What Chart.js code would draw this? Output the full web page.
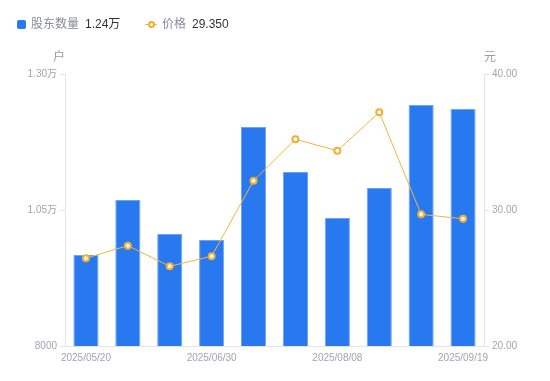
<!DOCTYPE html>
<html>
<head>
<meta charset="utf-8">
<script src="https://cdn.jsdelivr.net/npm/chart.js@4/dist/chart.umd.min.js"></script>
<style>
  html, body { margin: 0; padding: 0; background: #fff; }
  #wrap { position: relative; width: 550px; height: 381px; font-family: "Liberation Sans", "Noto Sans CJK SC", sans-serif; }
  canvas { position: absolute; left: 0; top: 0; }
  .lg { position: absolute; top: 16px; font-size: 12px; line-height: 16px; white-space: nowrap; }
  .lg .name { color: #8a8a99; }
  .lg .val { color: #333; margin-left: 6px; }
  .sq { position: absolute; left: 17px; top: 20px; width: 9px; height: 9px; background: #2878F0; border-radius: 2px; }
  .ln { position: absolute; left: 145px; top: 24px; width: 12px; height: 1px; background: #F5B43C; }
  .dot { position: absolute; left: 148px; top: 21px; width: 3px; height: 3px; border: 2px solid #F5AE2D; border-radius: 50%; background: #fff; }
  .ttl { position: absolute; top: 49px; font-size: 12px; color: #9a9aa8; line-height: 16px; }
</style>
</head>
<body>
<div id="wrap">
  <canvas id="c" width="550" height="381"></canvas>
  <div class="sq"></div>
  <div class="lg" style="left:31px"><span class="name">股东数量</span><span class="val" id="v1"></span></div>
  <div class="ln"></div><div class="dot"></div>
  <div class="lg" style="left:162px"><span class="name">价格</span><span class="val" id="v2"></span></div>
  <div class="ttl" style="left:53px">户</div>
  <div class="ttl" style="left:484px">元</div>
</div>
<script>
const categories = ["2025/05/20","2025/05/30","2025/06/10","2025/06/30","2025/07/10","2025/07/20","2025/08/08","2025/08/20","2025/08/29","2025/09/19"];
const holders = [9673, 10684, 10059, 9949, 12026, 11199, 10353, 10904, 12430, 12360];
const prices = [26.45, 27.38, 25.86, 26.60, 32.15, 35.20, 34.36, 37.18, 29.68, 29.35];
const leftTicks = [8000, 10500, 13000];
const rightTicks = [20, 30, 40];

const fmtHolders = v => v >= 10000 ? (v / 10000).toFixed(2) + '万' : String(v);
document.getElementById('v1').textContent = fmtHolders(holders[holders.length - 1]);
document.getElementById('v2').textContent = prices[prices.length - 1].toFixed(3);

const tickColor = '#a3a3b3';
const lineColor = '#e4e4ea';
const font = { family: '"Liberation Sans", "Noto Sans CJK SC", sans-serif', size: 10 };

new Chart(document.getElementById('c'), {
  data: {
    labels: categories,
    datasets: [
      {
        type: 'line', label: '价格', data: prices, yAxisID: 'y1', order: 0,
        borderColor: '#F5B43C', borderWidth: 1, tension: 0,
        pointRadius: 3, pointHoverRadius: 3, pointBorderWidth: 2,
        pointBorderColor: '#F5AE2D', pointBackgroundColor: '#fff'
      },
      {
        type: 'bar', label: '股东数量', data: holders, yAxisID: 'y', order: 1,
        backgroundColor: '#2878F0', borderColor: '#6fa3f5', borderWidth: 1,
        borderSkipped: 'bottom', categoryPercentage: 1, barPercentage: 0.6
      }
    ]
  },
  options: {
    responsive: false, animation: false,
    layout: { padding: { top: 74, left: 0, right: 0, bottom: 0 } },
    plugins: { legend: { display: false }, tooltip: { enabled: false } },
    scales: {
      x: {
        grid: { display: false, drawTicks: false, tickLength: 0 },
        border: { display: true, color: lineColor },
        ticks: {
          color: tickColor, font: font, autoSkip: false, maxRotation: 0, padding: 6,
          callback: function (v, i) { return i % 3 === 0 ? categories[i] : ''; }
        },
        afterFit: s => { s.height = 35; }
      },
      y: {
        position: 'left', min: 8000, max: 13000,
        afterBuildTicks: s => { s.ticks = leftTicks.map(v => ({ value: v })); },
        grid: { drawOnChartArea: false, color: lineColor, tickLength: 5 },
        border: { color: lineColor },
        ticks: { color: tickColor, font: font, padding: 3, callback: v => fmtHolders(v) },
        afterFit: s => { s.width = 65; }
      },
      y1: {
        position: 'right', min: 20, max: 40,
        afterBuildTicks: s => { s.ticks = rightTicks.map(v => ({ value: v })); },
        grid: { drawOnChartArea: false, color: lineColor, tickLength: 5 },
        border: { color: lineColor },
        ticks: { color: tickColor, font: font, padding: 3, callback: v => v.toFixed(2) },
        afterFit: s => { s.width = 66; }
      }
    }
  }
});
</script>
</body>
</html>
